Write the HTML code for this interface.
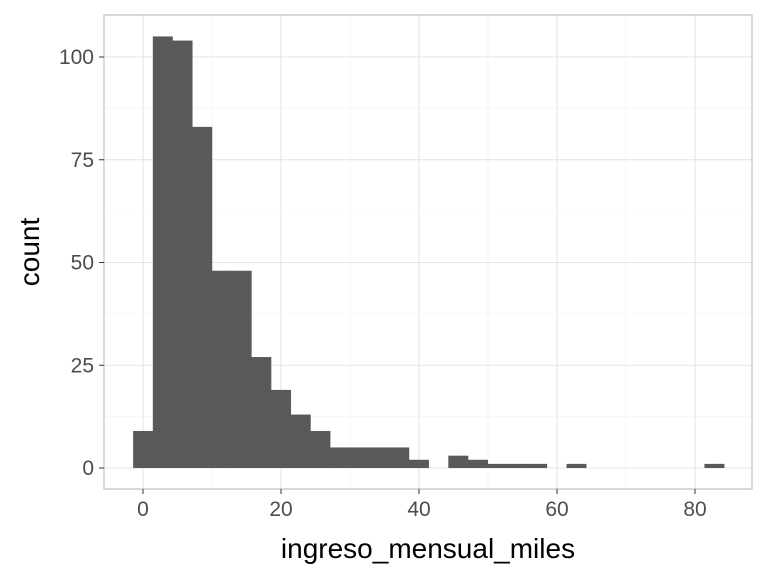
<!DOCTYPE html>
<html><head><meta charset="utf-8"><style>
body{margin:0;background:#fff;}
svg text{font-family:"Liberation Sans",sans-serif;}
</style></head><body>
<svg id="chart" width="768" height="576" xmlns="http://www.w3.org/2000/svg">
<rect x="0" y="0" width="768" height="576" fill="#fff"/>
<g id="grid"></g>
<g id="bars"></g>
<rect x="104" y="15" width="648" height="474" fill="none" stroke="#b3b3b3" stroke-width="1"/>
<g id="axes"></g>
<text x="428" y="558" font-size="28" text-anchor="middle" fill="#000">ingreso_mensual_miles</text>
<text transform="translate(39,252) rotate(-90)" font-size="28" text-anchor="middle" fill="#000">count</text>
</svg>
<script>
const binStart = -1.43;
const binWidth = 2.855;
const counts = [9,105,104,83,48,48,27,19,13,9,5,5,5,5,2,0,3,2,1,1,1,0,1,0,0,0,0,0,0,1];
const xTicks = [0,20,40,60,80];
const xMinor = [10,30,50,70];
const yTicks = [0,25,50,75,100];
const yMinor = [12.5,37.5,62.5,87.5];
const NS="http://www.w3.org/2000/svg";
const X=v=>143+v*6.9;
const Y=v=>468-v*4.11;
function mk(t,a,p){const e=document.createElementNS(NS,t);for(const k in a)e.setAttribute(k,a[k]);p.appendChild(e);return e;}
const g=document.getElementById('grid'),b=document.getElementById('bars'),ax=document.getElementById('axes');
xMinor.forEach(v=>{const l=mk('line',{x1:X(v),x2:X(v),y1:15,y2:489,stroke:'#f0f0f0','stroke-width':0.6},g);

});
yMinor.forEach(v=>{const l=mk('line',{x1:104,x2:752,y1:Y(v),y2:Y(v),stroke:'#f0f0f0','stroke-width':0.6},g);

});
xTicks.forEach(v=>{const l=mk('line',{x1:X(v),x2:X(v),y1:15,y2:489,stroke:'#e3e3e3','stroke-width':1.1},g);


const t=mk('line',{x1:X(v),x2:X(v),y1:489,y2:494,stroke:'#333','stroke-width':1},ax);


const tx=mk('text',{x:X(v),y:516,'font-size':21,'text-anchor':'middle',fill:'#4d4d4d'},ax);tx.textContent=v;

});
yTicks.forEach(v=>{const l=mk('line',{x1:104,x2:752,y1:Y(v),y2:Y(v),stroke:'#e3e3e3','stroke-width':1.1},g);


const t=mk('line',{x1:99,x2:104,y1:Y(v),y2:Y(v),stroke:'#333','stroke-width':1},ax);


const tx=mk('text',{x:94,y:Y(v)+7,'font-size':21,'text-anchor':'end',fill:'#4d4d4d'},ax);tx.textContent=v;

});
counts.forEach((c,i)=>{if(c<=0)return;const x0=X(binStart+i*binWidth),x1=X(binStart+(i+1)*binWidth);
const r=mk('rect',{x:x0,y:Y(c),width:x1-x0+0.3,height:Y(0)-Y(c),fill:'#595959'},b);

});
</script>
</body></html>
